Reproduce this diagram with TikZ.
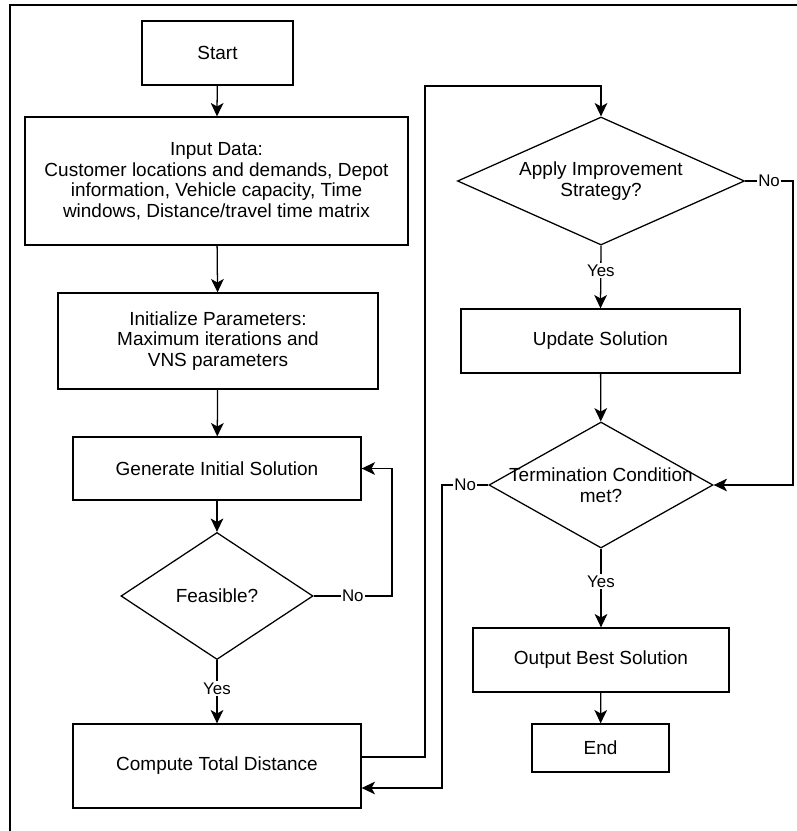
\documentclass[tikz,border=0pt]{standalone}
\usepackage{fontspec}
\setmainfont{Liberation Sans}
\usetikzlibrary{shapes.geometric,arrows.meta}

\begin{document}
\begin{tikzpicture}[x=0.025cm,y=-0.025cm,
    box/.style={draw,line width=0.9pt,rectangle,inner sep=0pt,align=center,
        font=\fontsize{13.5}{14.6}\selectfont},
    decision/.style={draw,line width=0.9pt,diamond,aspect=2,inner sep=-5pt,align=center,
        font=\fontsize{13.5}{14.6}\selectfont},
    arr/.style={line width=0.9pt,-{Stealth[length=9.5pt,width=9pt,inset=2.5pt]}},
    lbl/.style={fill=white,inner sep=1pt,font=\fontsize{12}{14}\selectfont}]

        \useasboundingbox (0,0) rectangle (797,831);

        % Frame
        \draw[line width=1.2pt] (10,831) -- (10,5) -- (797,5);

        % Left column
        \node[box,minimum width=3.775cm,minimum height=1.6cm] (start) at (217.5,53) {Start};
        \node[box,minimum width=9.575cm,minimum height=3.2cm] (input) at (216.5,181)
            {Input Data:\\Customer locations and demands, Depot\\information, Vehicle capacity, Time\\windows, Distance/travel time matrix};
        \node[box,minimum width=8cm,minimum height=2.4cm] (init) at (218,341)
            {Initialize Parameters:\\Maximum iterations and\\VNS parameters};
        \node[box,minimum width=7.2cm,minimum height=1.575cm] (gen) at (217,468.5) {Generate Initial Solution};
        \node[decision,minimum width=4.8cm,minimum height=3.175cm] (feas) at (217,596) {Feasible?};
        \node[box,minimum width=7.2cm,minimum height=2.1cm] (comp) at (217,766) {Compute Total Distance};

        % Right column
        \node[decision,minimum width=7.175cm,minimum height=3.2cm] (apply) at (601,181)
            {Apply Improvement\\Strategy?};
        \node[box,minimum width=6.975cm,minimum height=1.6cm] (update) at (600.5,341) {Update Solution};
        \node[decision,minimum width=5.6cm,minimum height=3.15cm] (term) at (601,485)
            {Termination Condition\\met?};
        \node[box,minimum width=6.4cm,minimum height=1.6cm] (output) at (601,660) {Output Best Solution};
        \node[box,minimum width=3.425cm,minimum height=1.2cm] (end) at (600.5,748) {End};

        % Loop corners
        \coordinate (rightF) at (392,0);
        \coordinate (topC) at (425,86);
        \coordinate (rightA) at (793,0);
        \coordinate (leftT) at (442,0);

        % Main flow
        \draw[arr] (start) -- (input);
        \draw[arr] (input) -- (init);
        \draw[arr] (init) -- (gen);
        \draw[arr] (gen) -- (feas);
        \draw[arr] (feas.south) -- node[lbl,pos=0.45] {Yes} (comp.north);
        \draw[arr] (feas.east) -- node[lbl] {No} (feas.east -| rightF) |- (gen.east);

        \draw[arr] ([yshift=0.225cm]comp.east) -| (topC) -| (apply.north);
        \draw[arr] (apply.south) -- node[lbl,pos=0.4] {Yes} (update.north);
        \draw[arr] (apply.east) -- node[lbl] {No} (apply.east -| rightA) |- (term.east);
        \draw[arr] (update) -- (term);
        \draw[arr] (term.west) -- node[lbl] {No} (term.west -| leftT) |- ([yshift=-0.55cm]comp.east);
        \draw[arr] (term.south) -- node[lbl,pos=0.42] {Yes} (output.north);
        \draw[arr] (output) -- (end);

    \end{tikzpicture}
\end{document}
